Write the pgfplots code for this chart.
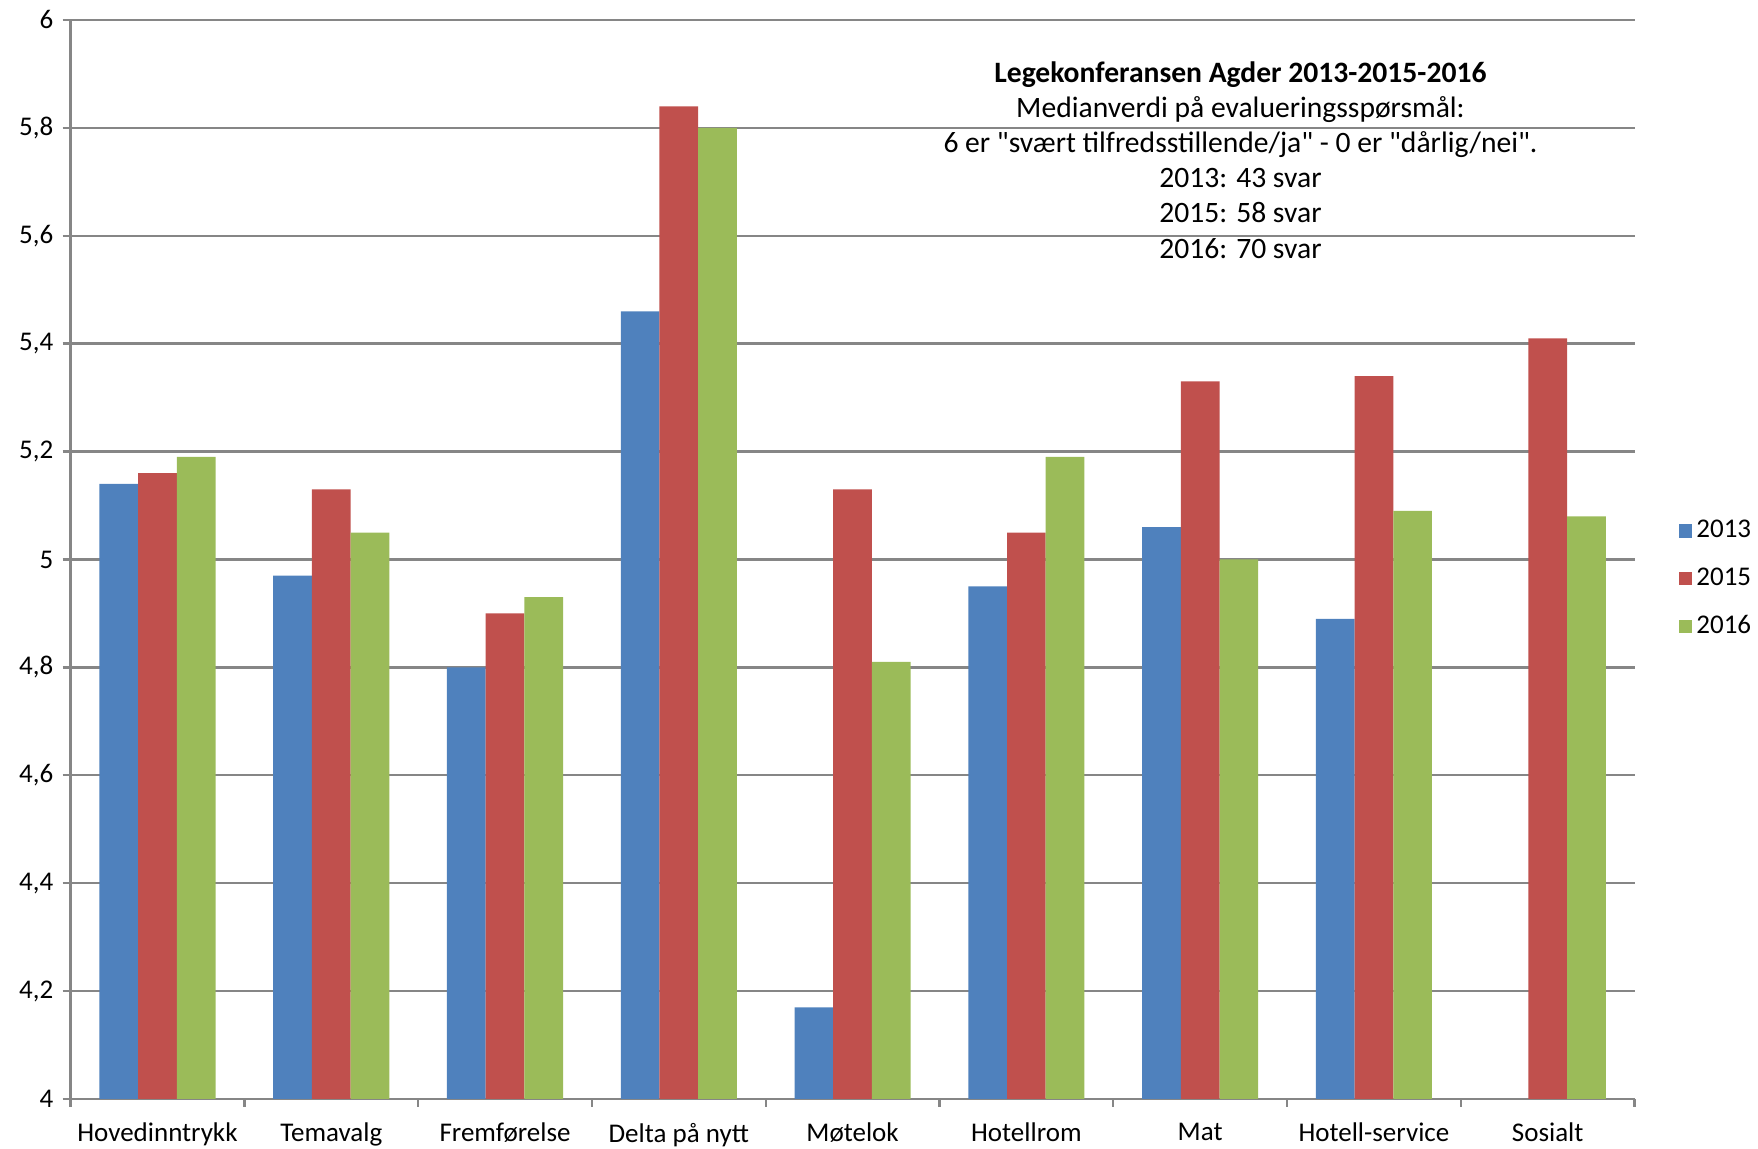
\documentclass[border=0pt]{standalone}
\usepackage{pgfplots}
\pgfplotsset{compat=1.18}
\usepackage{fontspec}
\setmainfont{Carlito}
\definecolor{c13}{HTML}{4F81BD}
\definecolor{c15}{HTML}{C0504D}
\definecolor{c16}{HTML}{9BBB59}
\definecolor{gridc}{HTML}{868686}

\begin{document}
\fontsize{13.5pt}{16pt}\selectfont
\begin{tikzpicture}
\useasboundingbox (-35.3pt,-25pt) rectangle (843.7pt,549.5pt);
\begin{axis}[
  scale only axis, width=782pt, height=539.5pt,
  ybar=0pt, bar width=19.35pt,
  xmin=-0.5, xmax=8.5, ymin=4, ymax=6,
  xtick={0,...,8},
  xticklabels={Hovedinntrykk,Temavalg,Fremførelse,Delta på nytt,Møtelok,Hotellrom,Mat,Hotell-service,Sosialt},
  minor xtick={-0.5,0.5,...,8.5},
  ytick={4,4.2,4.4,4.6,4.8,5,5.2,5.4,5.6,5.8,6},
  yticklabel style={/pgf/number format/.cd,fixed,precision=1,use comma,assume math mode=true},
  ticklabel style={font=\fontsize{13.5pt}{16pt}\selectfont},
  xticklabel style={yshift=-3.4pt},
  axis x line*=bottom, axis y line*=left,
  axis line style={-, gridc, line width=1.2pt},
  tick align=outside, tick pos=left,
  major tick length=4pt, minor tick length=4pt,
  xtick style={draw=none},
  minor x tick style={draw=gridc, line width=1.2pt},
  ytick style={draw=gridc, line width=1.2pt},
  ymajorgrids, grid style={gridc, line width=1.2pt},
  legend style={at={(1.028,0.482)}, anchor=west, draw=none, fill=none,
    inner sep=0pt, row sep=9pt, font=\fontsize{13.5pt}{16pt}\selectfont},
  legend image code/.code={\fill[#1] (0pt,-3.4pt) rectangle (6.8pt,3.4pt);},
  clip=false,
]
\addplot[fill=c13, draw=none] coordinates {(0,5.14) (1,4.97) (2,4.80) (3,5.46) (4,4.17) (5,4.95) (6,5.06) (7,4.89)};
\addplot[fill=c15, draw=none] coordinates {(0,5.16) (1,5.13) (2,4.90) (3,5.84) (4,5.13) (5,5.05) (6,5.33) (7,5.34) (8,5.41)};
\addplot[fill=c16, draw=none] coordinates {(0,5.19) (1,5.05) (2,4.93) (3,5.80) (4,4.81) (5,5.19) (6,5.00) (7,5.09) (8,5.08)};
\legend{2013,2015,2016}
\node[anchor=north, align=center, inner sep=0pt, font=\fontsize{14.8pt}{17.6pt}\selectfont]
  at (rel axis cs:0.748,0.962) {\textbf{Legekonferansen Agder 2013-2015-2016}\\
  Medianverdi på evalueringsspørsmål:\\
  6 er \textquotedbl svært tilfredsstillende/ja\textquotedbl{} - 0 er \textquotedbl dårlig/nei\textquotedbl.\\
  2013: 43 svar\\ 2015: 58 svar\\ 2016: 70 svar};
\end{axis}
\end{tikzpicture}
\end{document}
